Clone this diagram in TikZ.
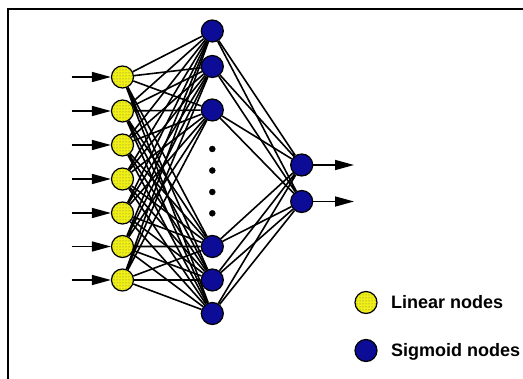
\documentclass[tikz,border=0pt]{standalone}
\usepackage{fontspec}
\setsansfont{Liberation Sans}
\usetikzlibrary{patterns}
\usetikzlibrary{arrows.meta}

\definecolor{linyellow}{RGB}{240,240,20}
\definecolor{sigblue}{RGB}{12,12,150}

\begin{document}
\begin{tikzpicture}[x=1pt,y=-1pt,
  linear/.style={draw=black, line width=1.2pt, circle, minimum size=22pt, inner sep=0pt,
    preaction={fill=linyellow}, pattern=dots, pattern color=black!60},
  sigmoid/.style={draw=black, line width=1.2pt, circle, minimum size=22pt, inner sep=0pt, fill=sigblue},
  gap/.style={draw=black, fill=black, circle, minimum size=6pt, inner sep=0pt},
  wire/.style={line width=1.6pt},
  feed/.style={line width=1.6pt, -{Triangle[length=19pt,width=10pt]}},
  legendtext/.style={anchor=base west, inner sep=0pt, font=\sffamily\bfseries\fontsize{18}{20}\selectfont}]
\useasboundingbox (0,0) rectangle (523,379);
\clip (0,0) rectangle (523,379);
% frame
\draw[line width=2pt] (7.5,420) -- (7.5,9.5) -- (560,9.5);
% input layer
\node[linear] (i1) at (122.5,77) {};
\node[linear] (i2) at (122.5,111) {};
\node[linear] (i3) at (122.5,145) {};
\node[linear] (i4) at (122.5,179) {};
\node[linear] (i5) at (122.5,213) {};
\node[linear] (i6) at (122.5,246.5) {};
\node[linear] (i7) at (122.5,280) {};
\coordinate (s1) at (71.5,77);
\coordinate (s2) at (71.5,111);
\coordinate (s3) at (71.5,145);
\coordinate (s4) at (71.5,179);
\coordinate (s5) at (71.5,213);
\coordinate (s6) at (71.5,246.5);
\coordinate (s7) at (71.5,280);
% hidden layer
\node[sigmoid] (h1) at (212.3,31) {};
\node[sigmoid] (h2) at (212.3,66.5) {};
\node[sigmoid] (h3) at (212.3,110) {};
\node[gap] (g1) at (212.3,149) {};
\node[gap] (g2) at (212.3,170.5) {};
\node[gap] (g3) at (212.3,192) {};
\node[gap] (g4) at (212.3,213.3) {};
\node[sigmoid] (h4) at (212.3,246.5) {};
\node[sigmoid] (h5) at (212.3,280) {};
\node[sigmoid] (h6) at (212.3,313.5) {};
% output layer
\node[sigmoid] (o1) at (301.7,165) {};
\node[sigmoid] (o2) at (301.7,201.5) {};
\coordinate (e1) at (354,165);
\coordinate (e2) at (354,201.5);
% inputs and outputs
\draw[feed] (s1) -- (i1);
\draw[feed] (s2) -- (i2);
\draw[feed] (s3) -- (i3);
\draw[feed] (s4) -- (i4);
\draw[feed] (s5) -- (i5);
\draw[feed] (s6) -- (i6);
\draw[feed] (s7) -- (i7);
\draw[feed] (o1) -- (e1);
\draw[feed] (o2) -- (e2);
% weights
\draw[wire] (i1) -- (h1) (i1) -- (h2) (i1) -- (h3) (i1) -- (h4) (i1) -- (h5) (i1) -- (h6);
\draw[wire] (i2) -- (h1) (i2) -- (h2) (i2) -- (h3) (i2) -- (h4) (i2) -- (h5) (i2) -- (h6);
\draw[wire] (i3) -- (h1) (i3) -- (h2) (i3) -- (h3) (i3) -- (h4) (i3) -- (h5) (i3) -- (h6);
\draw[wire] (i4) -- (h1) (i4) -- (h2) (i4) -- (h3) (i4) -- (h4) (i4) -- (h5) (i4) -- (h6);
\draw[wire] (i5) -- (h1) (i5) -- (h2) (i5) -- (h3) (i5) -- (h4) (i5) -- (h5) (i5) -- (h6);
\draw[wire] (i6) -- (h1) (i6) -- (h2) (i6) -- (h3) (i6) -- (h4) (i6) -- (h5) (i6) -- (h6);
\draw[wire] (i7) -- (h1) (i7) -- (h2) (i7) -- (h3) (i7) -- (h4) (i7) -- (h5) (i7) -- (h6);
\draw[wire] (h1) -- (o1) (h2) -- (o1) (h3) -- (o1) (h4) -- (o1) (h5) -- (o1) (h6) -- (o1);
\draw[wire] (h1) -- (o2) (h2) -- (o2) (h3) -- (o2) (h4) -- (o2) (h5) -- (o2) (h6) -- (o2);
% legend
\node[linear] (keylin) at (366,302.5) {};
\node[sigmoid] (keysig) at (366,350.5) {};
\node[legendtext] (linlabel) at (391,309) {Linear nodes};
\node[legendtext] (siglabel) at (391,357) {Sigmoid nodes};
\end{tikzpicture}
\end{document}
